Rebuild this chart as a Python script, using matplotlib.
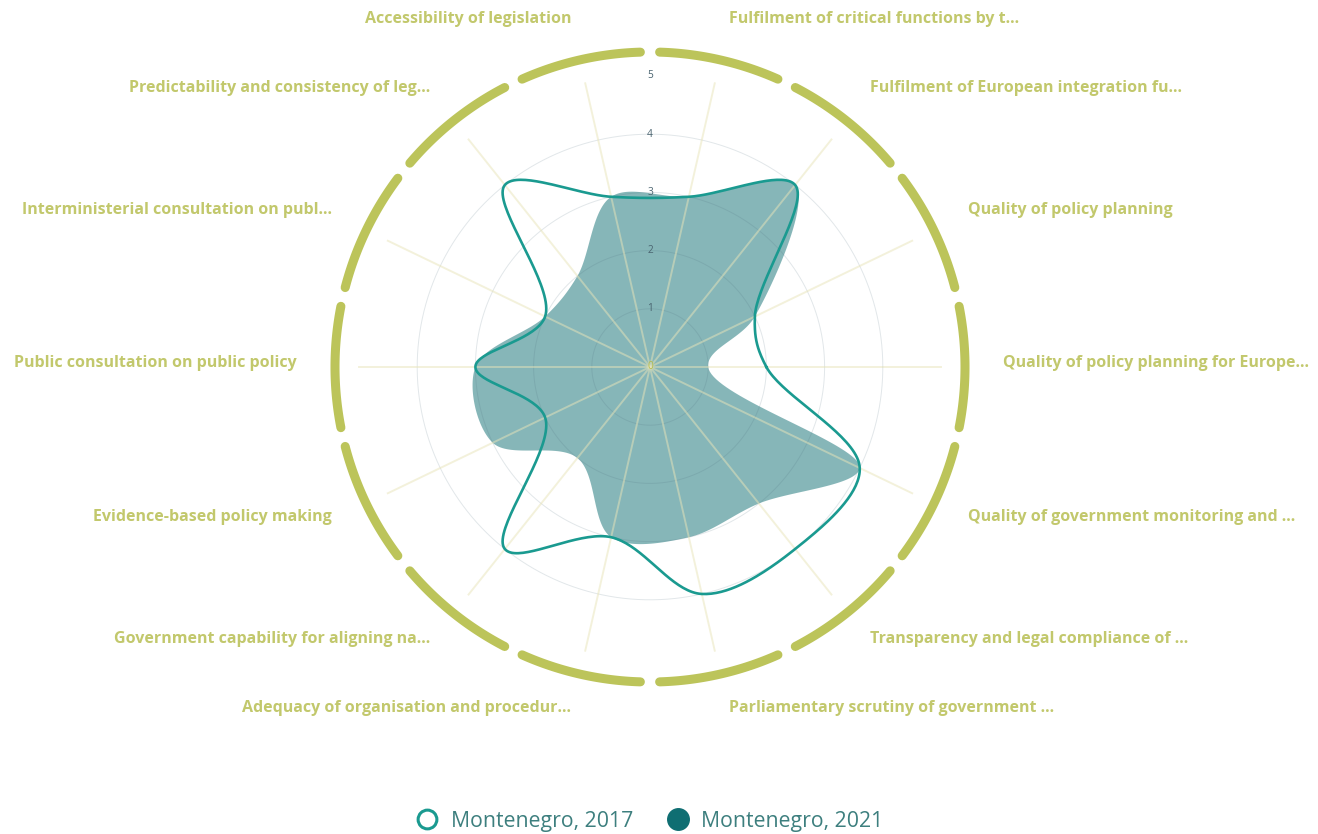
import numpy as np
import matplotlib.pyplot as plt
from matplotlib.lines import Line2D

# categories in angular order, starting at the right (0 deg) and going counter-clockwise
categories = [
    'Quality of policy planning for Europe...',
    'Quality of policy planning',
    'Fulfilment of European integration fu...',
    'Fulfilment of critical functions by t...',
    'Accessibility of legislation',
    'Predictability and consistency of leg...',
    'Interministerial consultation on publ...',
    'Public consultation on public policy',
    'Evidence-based policy making',
    'Government capability for aligning na...',
    'Adequacy of organisation and procedur...',
    'Parliamentary scrutiny of government ...',
    'Transparency and legal compliance of ...',
    'Quality of government monitoring and ...',
]
values_2017 = [2, 2, 4, 3, 3, 4, 2, 3, 2, 4, 3, 4, 4, 4]
values_2021 = [1, 2, 4, 3, 3, 2, 2, 3, 3, 2, 3, 3, 3, 4]
radial_ticks = [0, 1, 2, 3, 4, 5]
legend_labels = ['Montenegro, 2017', 'Montenegro, 2021']

col_2017 = '#1a9a90'
col_2021 = '#0f6e72'
olive = '#bcc45a'
label_col = '#c2c86c'

plt.rcParams['font.family'] = ['Open Sans', 'DejaVu Sans']


def tangent(prev, this, nxt, smooth=1.0):
    # plotly style catmull-rom control points
    d1 = prev - this
    d2 = nxt - this
    d1a = np.hypot(*d1) ** 0.5
    d2a = np.hypot(*d2) ** 0.5
    num = (d2a * d2a * d1 - d1a * d1a * d2) * smooth
    den1 = 3 * d2a * (d1a + d2a)
    den2 = 3 * d1a * (d1a + d2a)
    return this + num / den1, this - num / den2


def smooth_closed(values):
    n = len(values)
    ang = np.arange(n) * 2 * np.pi / n
    pts = np.column_stack([np.array(values) * np.cos(ang), np.array(values) * np.sin(ang)])
    tans = [tangent(pts[i - 1], pts[i], pts[(i + 1) % n]) for i in range(n)]
    t = np.linspace(0, 1, 40)[:, None]
    out = []
    for i in range(n):
        j = (i + 1) % n
        p0, c1, c2, p3 = pts[i], tans[i][1], tans[j][0], pts[j]
        seg = (1 - t) ** 3 * p0 + 3 * (1 - t) ** 2 * t * c1 + 3 * (1 - t) * t ** 2 * c2 + t ** 3 * p3
        out.append(seg)
    out = np.vstack(out)
    return out[:, 0], out[:, 1]


W, H = 1318, 834
cx, cy = 650, 367
U = 58.2  # pixels per unit

fig = plt.figure(figsize=(W / 100, H / 100), dpi=100)
ax = fig.add_axes([0, 0, 1, 1])
ax.set_xlim(-cx / U, (W - cx) / U)
ax.set_ylim(-(H - cy) / U, cy / U)
ax.axis('off')

n = len(categories)
angles = np.arange(n) * 2 * np.pi / n
step = 2 * np.pi / n

# 2021 filled area
x21, y21 = smooth_closed(values_2021)
ax.fill(x21, y21, color=col_2021, alpha=0.5, lw=0, zorder=2)

# grid circles
th = np.linspace(0, 2 * np.pi, 400)
for r in radial_ticks[1:-1]:
    ax.plot(r * np.cos(th), r * np.sin(th), color='#4a6a7a', alpha=0.16, lw=0.7, zorder=3)

# spokes
for a in angles:
    ax.plot([0, 5 * np.cos(a)], [0, 5 * np.sin(a)], color='#e8e4b8', alpha=0.5, lw=1.4, zorder=3)

# 2017 line
x17, y17 = smooth_closed(values_2017)
ax.plot(x17, y17, color=col_2017, lw=1.9, zorder=4)

# radial tick labels
for r in radial_ticks:
    ax.text(0, r, str(r), ha='center', va='center', fontsize=7.3,
            color='#b5bc4a' if r == 0 else '#4a6470', zorder=5)

# outer ring segments
R = 315 / U
half_gap = np.deg2rad(1.75)
for a in angles:
    t = np.linspace(a - step / 2 + half_gap, a + step / 2 - half_gap, 60)
    ax.plot(R * np.cos(t), R * np.sin(t), color=olive, lw=6.5, solid_capstyle='round', zorder=1)

# category labels
RL = 353 / U
for a, lab in zip(angles, categories):
    c = np.cos(a)
    ha = 'left' if c > 0 else 'right'
    ax.text(RL * np.cos(a), RL * np.sin(a) + 3.5 / U, lab, ha=ha, va='center',
            fontsize=11.5, fontweight='bold', color=label_col)

handles = [
    Line2D([], [], ls='none', marker='o', markersize=13.5, markerfacecolor='white',
           markeredgecolor=col_2017, markeredgewidth=2.2),
    Line2D([], [], ls='none', marker='o', markersize=15.5, markerfacecolor=col_2021,
           markeredgecolor=col_2021),
]
fig.legend(handles, legend_labels, loc='center', bbox_to_anchor=(cx / W, 13 / H),
           ncol=2, frameon=False, fontsize=15.3, labelcolor='#3d7f7e',
           handlelength=1.0, handletextpad=0.6, columnspacing=1.6)

fig.savefig('out.png', dpi=100)
